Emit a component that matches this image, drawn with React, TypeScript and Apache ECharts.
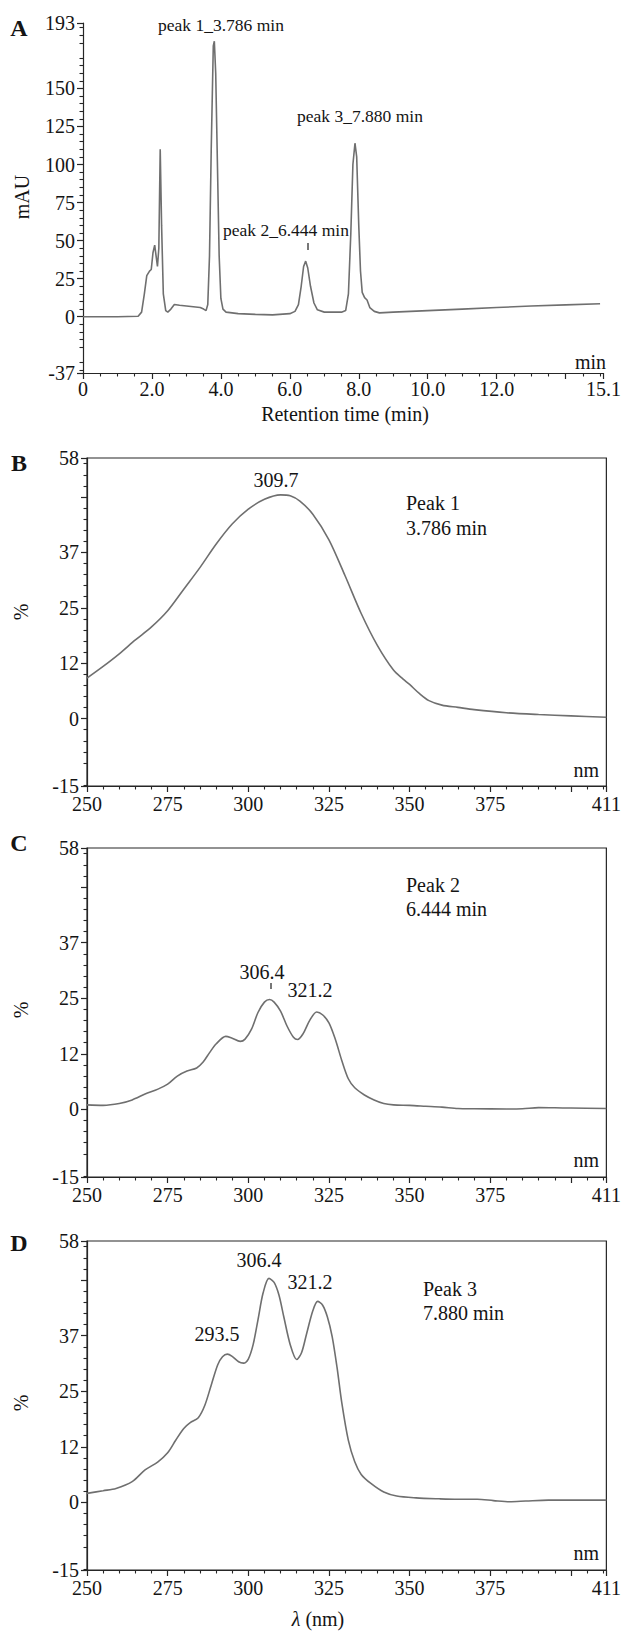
import React, { useEffect, useRef } from 'react';
import * as echarts from 'echarts';

// ---------- Panel A: chromatogram ----------
const chromTime = [
  0, 1.0, 1.6, 1.7, 1.78, 1.85, 1.93, 1.98, 2.03, 2.08, 2.12, 2.16, 2.2, 2.24, 2.28, 2.33, 2.4, 2.46,
  2.55, 2.65, 2.8, 3.0, 3.2, 3.4, 3.5, 3.57, 3.62, 3.67, 3.72, 3.78, 3.81, 3.85, 3.9, 3.95, 4.0, 4.06,
  4.15, 4.5, 5.0, 5.5, 6.0, 6.15, 6.25, 6.33, 6.4, 6.46, 6.52, 6.6, 6.7, 6.8, 7.0, 7.5, 7.62, 7.7,
  7.77, 7.83, 7.89, 7.94, 8.0, 8.05, 8.1, 8.17, 8.24, 8.32, 8.45, 8.6, 9.0, 10.0, 11.0, 12.0, 13.0,
  14.0, 15.0,
];
const chromAbs = [
  0, 0, 0.3, 3, 15, 27, 30, 31, 42, 47, 40, 33, 45, 110, 60, 15, 4, 3,
  5, 8, 7.5, 7, 6.5, 6, 5, 4, 8, 40, 110, 178, 181, 160, 100, 40, 12, 5,
  3, 2, 1.5, 1.2, 2, 3.5, 8, 20, 33, 36.5, 32, 20, 9, 4.5, 3, 3, 4, 15,
  55, 100, 114, 105, 60, 30, 16, 12.5, 11, 6, 3.5, 2.5, 3, 4, 5, 6, 7,
  7.8, 8.5,
];
const chromXLabels = [0, 2, 4, 6, 8, 10, 12, 15.1];
const chromXMajorTicks = [0, 2, 4, 6, 8, 10, 12, 14, 15.1];
const chromYLabels = [-37, 0, 25, 50, 75, 100, 125, 150, 193];

// ---------- Panels B-D: UV spectra ----------
const peak1Nm = [250, 255, 260, 265, 270, 275, 280, 285, 290, 295, 300, 305, 310, 313, 316, 320, 325, 330, 335, 340, 345, 348, 350, 353, 356, 360, 365, 370, 380, 390, 400, 411];
const peak1Pct = [9.0, 11.6, 14.4, 17.5, 20.4, 24.0, 28.8, 33.6, 38.8, 43.3, 46.6, 48.8, 49.8, 49.6, 48.4, 45.5, 39.8, 31.8, 23.4, 16.3, 10.8, 8.8, 7.6, 5.6, 4.0, 3.0, 2.5, 2.0, 1.3, 0.9, 0.6, 0.3];

const peak2Nm = [250, 255, 260, 264, 268, 272, 275, 278, 281, 284, 286, 288, 290, 293, 295, 297.5, 299, 301, 303, 305, 306.6, 308, 310, 312, 314, 315.3, 317, 319, 321.2, 323, 325, 327, 329, 331, 333, 336, 339, 342, 345, 350, 355, 360, 365, 370, 380, 385, 390, 395, 400, 411];
const peak2Pct = [1.0, 0.9, 1.3, 2.1, 3.4, 4.5, 5.6, 7.4, 8.5, 9.2, 10.5, 12.6, 14.5, 16.2, 15.8, 15.1, 15.6, 17.8, 21.5, 23.8, 24.4, 23.8, 21.8, 18.5, 16.0, 15.5, 16.8, 19.7, 21.6, 21.0, 19.2, 15.5, 10.8, 6.8, 4.8, 3.2, 2.1, 1.3, 1.0, 0.9, 0.7, 0.5, 0.2, 0.15, 0.1, 0.15, 0.4, 0.35, 0.3, 0.2];

const peak3Nm = [250, 255, 259, 264, 268, 272, 275, 277.5, 280, 282, 284.5, 286.5, 288.5, 290.5, 292, 293.5, 295, 297, 298.5, 300, 301.5, 303, 304.6, 306.4, 308, 309.5, 311, 313, 315, 316.5, 318, 320, 321.5, 323, 324.5, 326, 327.5, 329, 331, 333, 335, 338, 342, 346, 352, 359, 365, 371, 376, 381, 386, 393, 400, 411];
const peak3Pct = [2.0, 2.6, 3.1, 4.6, 7.2, 9.0, 11.0, 13.8, 16.4, 17.7, 18.8, 21.5, 26.0, 30.5, 32.3, 32.9, 32.4, 31.2, 30.9, 31.8, 35.0, 40.5, 46.5, 49.7, 48.8, 46.0, 41.2, 35.0, 31.7, 33.2, 37.2, 42.5, 44.6, 43.8, 41.2, 36.8, 30.0, 22.0, 13.8, 9.0, 6.2, 4.2, 2.3, 1.4, 1.0, 0.8, 0.7, 0.7, 0.4, 0.15, 0.3, 0.5, 0.5, 0.5];

const specXLabels = [250, 275, 300, 325, 350, 375, 411];
const specXMajorTicks = [250, 275, 300, 325, 350, 375, 400, 411];
const specYLabels = [-15, 0, 12.333, 24.667, 37, 58];
const specYMajorTicks = [-15, 0, 12.333, 24.667, 37, 49.333, 58];

// ---------- styling ----------
const SERIF = 'Liberation Serif';
const AXIS = '#262626';
const TEXT = '#141414';
const CURVE = '#6f6f6f';

function minorTicks(start: number, end: number, step: number, majorStep: number, origin: number) {
  const out: number[] = [];
  const n = Math.round((end - start) / step);
  for (let i = 0; i <= n; i++) {
    const v = +(start + i * step).toFixed(4);
    const k = (v - origin) / majorStep;
    if (Math.abs(k - Math.round(k)) > 1e-3) out.push(v);
  }
  return out;
}

const chromXMinor = minorTicks(0.5, 15.0, 0.5, 2, 0);
const chromYMinor = minorTicks(-35, 190, 5, 25, 0);
const specXMinor = minorTicks(255, 410, 5, 25, 250);
const specYMinor = minorTicks(-14.8, 56.73, 37 / 15, 37 / 3, 0);

const zip = (xs: number[], ys: number[]) => xs.map((x, i) => [x, ys[i]]);

const labelStyle = { fontSize: 20, fontFamily: SERIF, color: TEXT };

function mainX(gridIndex: number, min: number, max: number, ticks: number[], labels: number[], fmt: (v: number) => string, margin: number) {
  return {
    type: 'value', gridIndex, min, max, position: 'bottom',
    axisLine: { show: true, onZero: false, lineStyle: { color: AXIS, width: 1.2 } },
    axisTick: { show: true, customValues: ticks, length: 6, lineStyle: { color: AXIS, width: 1.2 } },
    axisLabel: { ...labelStyle, customValues: labels, formatter: fmt, margin },
    splitLine: { show: false },
  };
}
function minorX(gridIndex: number, min: number, max: number, ticks: number[]) {
  return {
    type: 'value', gridIndex, min, max, position: 'bottom',
    axisLine: { show: false, onZero: false },
    axisTick: { show: true, customValues: ticks, length: 3.5, lineStyle: { color: AXIS, width: 1.1 } },
    axisLabel: { show: false },
    splitLine: { show: false },
  };
}
function mainY(gridIndex: number, min: number, max: number, ticks: number[], labels: number[], margin: number) {
  return {
    type: 'value', gridIndex, min, max, position: 'left',
    axisLine: { show: true, onZero: false, lineStyle: { color: AXIS, width: 1.2 } },
    axisTick: { show: true, customValues: ticks, length: 6, lineStyle: { color: AXIS, width: 1.2 } },
    axisLabel: { ...labelStyle, customValues: labels, formatter: (v: number) => String(Math.round(v)), margin },
    splitLine: { show: false },
  };
}
function minorY(gridIndex: number, min: number, max: number, ticks: number[]) {
  return {
    type: 'value', gridIndex, min, max, position: 'left',
    axisLine: { show: false, onZero: false },
    axisTick: { show: true, customValues: ticks, length: 3.5, lineStyle: { color: AXIS, width: 1.1 } },
    axisLabel: { show: false },
    splitLine: { show: false },
  };
}

function txt(text: string, x: number, y: number, opts: any = {}) {
  return {
    type: 'text', x, y, rotation: opts.rotation || 0, silent: true,
    style: {
      text, fill: TEXT, fontFamily: SERIF, fontSize: opts.size || 20,
      fontWeight: opts.bold ? 'bold' : 'normal', fontStyle: opts.italic ? 'italic' : 'normal',
      align: opts.align || 'center', verticalAlign: 'middle', rich: opts.rich,
    },
  };
}
function dash(x: number, y1: number, y2: number) {
  return { type: 'line', silent: true, shape: { x1: x, y1, x2: x, y2 }, style: { stroke: '#555', lineWidth: 1.6 } };
}

const specFmt = (v: number) => (v === 400 ? '' : String(v));
const chromFmt = (v: number) => (v === 0 ? '0' : v.toFixed(1));

export default function App() {
  const ref = useRef<HTMLDivElement>(null);
  useEffect(() => {
    if (!ref.current) return;
    const chart = echarts.init(ref.current, undefined, { renderer: 'svg' });
    const frame = { show: true, borderColor: AXIS, borderWidth: 1.2, backgroundColor: 'transparent' };
    const lineSeries = (idx: number, data: number[][], smooth: number | boolean) => ({
      type: 'line', xAxisIndex: idx, yAxisIndex: idx, data, showSymbol: false, smooth,
      lineStyle: { color: CURVE, width: 1.6 }, silent: true, z: 3,
    });
    chart.setOption({
      animation: false,
      backgroundColor: '#ffffff',
      textStyle: { fontFamily: SERIF },
      grid: [
        { left: 83, top: 23, width: 524, height: 350 },
        { left: 87, top: 458, width: 521, height: 328, ...frame },
        { left: 87, top: 848, width: 521, height: 329, ...frame },
        { left: 87, top: 1241, width: 521, height: 329, ...frame },
      ],
      xAxis: [
        mainX(0, 0, 15.1, chromXMajorTicks, chromXLabels, chromFmt, 6),
        mainX(1, 250, 411, specXMajorTicks, specXLabels, specFmt, 8),
        mainX(2, 250, 411, specXMajorTicks, specXLabels, specFmt, 8),
        mainX(3, 250, 411, specXMajorTicks, specXLabels, specFmt, 8),
        minorX(0, 0, 15.1, chromXMinor),
        minorX(1, 250, 411, specXMinor),
        minorX(2, 250, 411, specXMinor),
        minorX(3, 250, 411, specXMinor),
      ],
      yAxis: [
        mainY(0, -37, 193, chromYLabels, chromYLabels, 8),
        mainY(1, -15, 58, specYMajorTicks, specYLabels, 8),
        mainY(2, -15, 58, specYMajorTicks, specYLabels, 8),
        mainY(3, -15, 58, specYMajorTicks, specYLabels, 8),
        minorY(0, -37, 193, chromYMinor),
        minorY(1, -15, 58, specYMinor),
        minorY(2, -15, 58, specYMinor),
        minorY(3, -15, 58, specYMinor),
      ],
      series: [
        lineSeries(0, zip(chromTime, chromAbs), false),
        lineSeries(1, zip(peak1Nm, peak1Pct), 0.3),
        lineSeries(2, zip(peak2Nm, peak2Pct), 0.3),
        lineSeries(3, zip(peak3Nm, peak3Pct), 0.3),
      ],
      graphic: [
        // Panel A
        txt('A', 19, 28, { bold: true, size: 24 }),
        txt('mAU', 22, 197, { rotation: Math.PI / 2 }),
        txt('peak 1_3.786 min', 221, 25, { size: 17.5 }),
        txt('peak 2_6.444 min', 286, 230, { size: 17.5 }),
        txt('peak 3_7.880 min', 360, 116, { size: 17.5 }),
        dash(308, 243, 250),
        txt('min', 606, 362, { align: 'right' }),
        txt('Retention time (min)', 345, 414),
        // Panel B
        txt('B', 19, 463, { bold: true, size: 24 }),
        txt('%', 21, 612, { rotation: Math.PI / 2 }),
        txt('309.7', 276, 480),
        txt('Peak 1', 406, 503, { align: 'left' }),
        txt('3.786 min', 406, 528, { align: 'left' }),
        txt('nm', 599, 770, { align: 'right' }),
        // Panel C
        txt('C', 19, 843, { bold: true, size: 24 }),
        txt('%', 21, 1010, { rotation: Math.PI / 2 }),
        txt('306.4', 262, 972),
        dash(271, 983, 989),
        txt('321.2', 310, 990),
        txt('Peak 2', 406, 885, { align: 'left' }),
        txt('6.444 min', 406, 909, { align: 'left' }),
        txt('nm', 599, 1160, { align: 'right' }),
        // Panel D
        txt('D', 19, 1243, { bold: true, size: 24 }),
        txt('%', 21, 1403, { rotation: Math.PI / 2 }),
        txt('293.5', 217, 1334),
        txt('306.4', 259, 1260),
        txt('321.2', 310, 1282),
        txt('Peak 3', 423, 1289, { align: 'left' }),
        txt('7.880 min', 423, 1313, { align: 'left' }),
        txt('nm', 599, 1553, { align: 'right' }),
        txt('{i|λ} (nm)', 318, 1619, { rich: { i: { fontStyle: 'italic', fontSize: 20, fontFamily: SERIF, fill: TEXT } } }),
      ],
    });
    return () => chart.dispose();
  }, []);
  return <div ref={ref} style={{ position: 'absolute', left: 0, top: 0, width: 624, height: 1631 }} />;
}
